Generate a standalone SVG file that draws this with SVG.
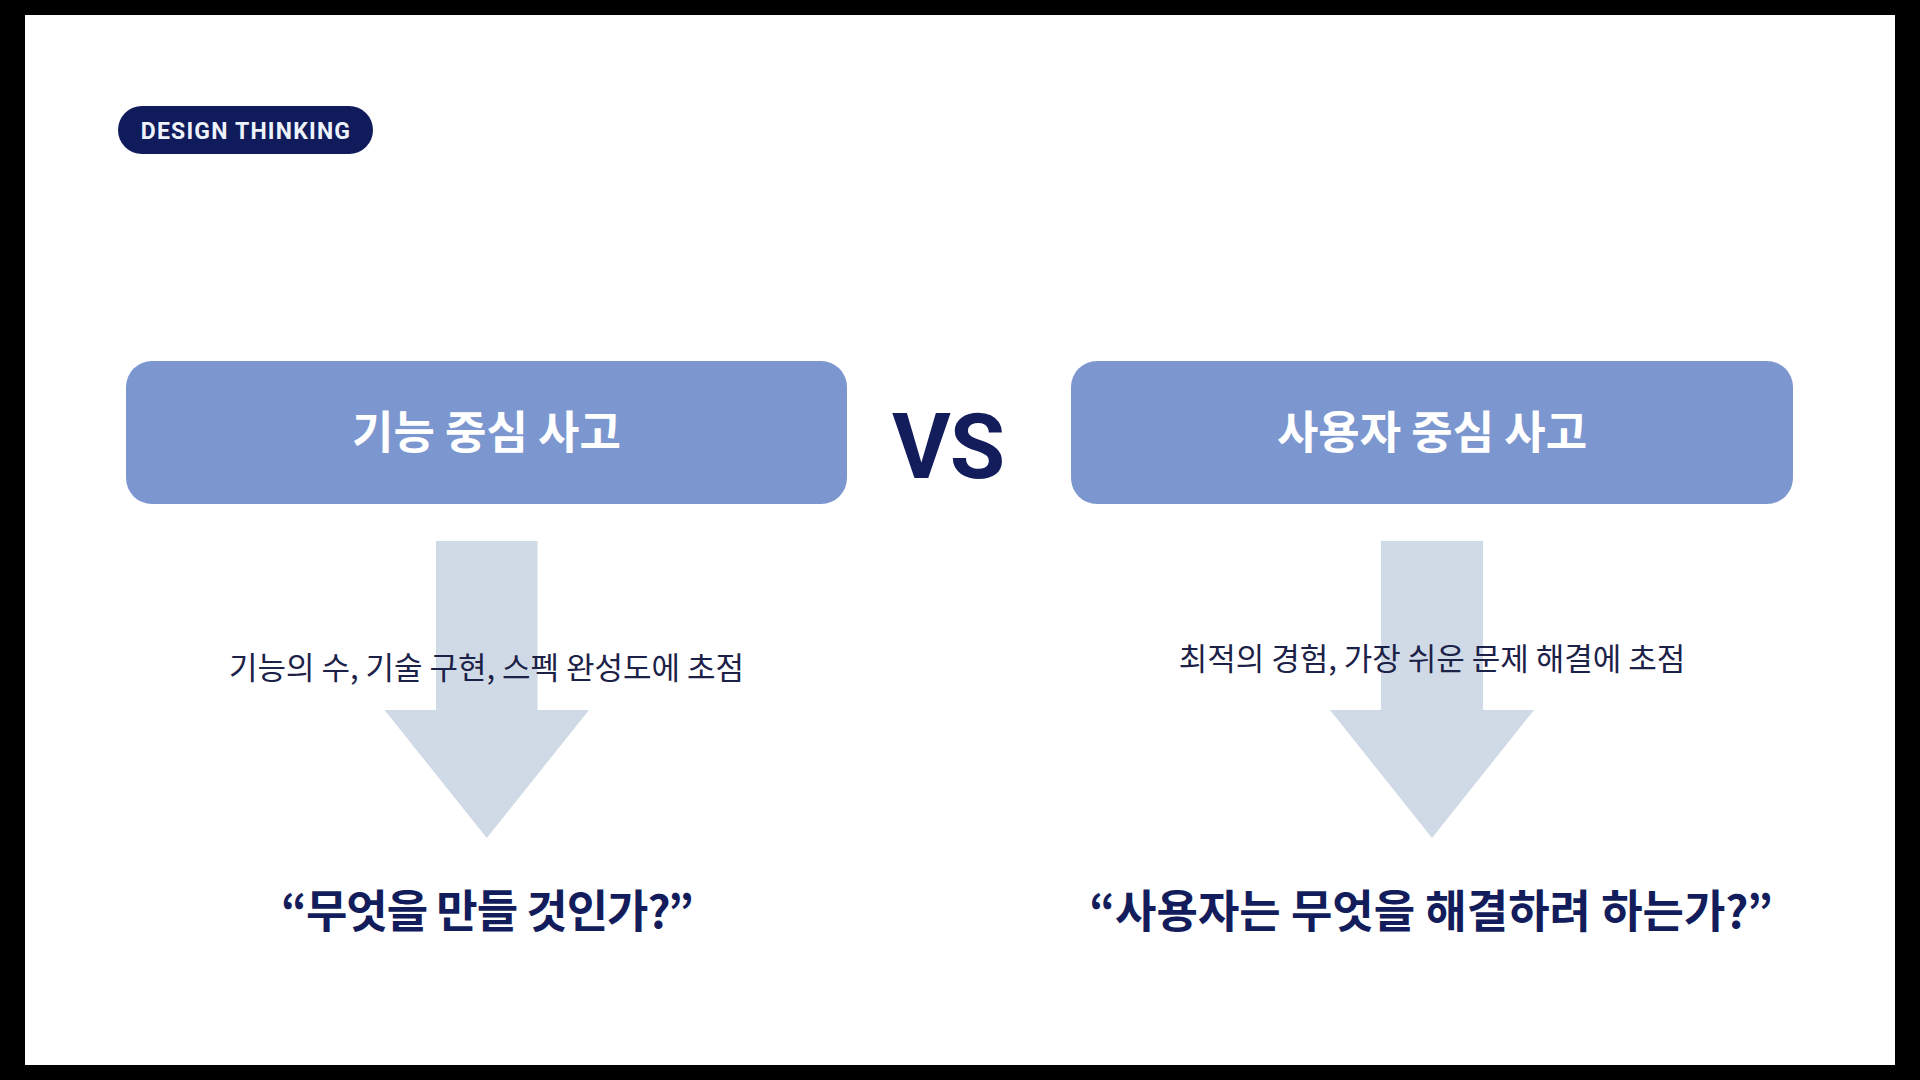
<svg xmlns="http://www.w3.org/2000/svg" width="1920" height="1080" viewBox="0 0 1920 1080">
<style>
.box{fill:#7c97d0}
.arrow{fill:#d0dae6}
.title{font-family:"Noto Sans CJK KR","Noto Sans",sans-serif;font-weight:700;font-size:45px;fill:#ffffff;text-anchor:middle}
.desc{font-family:"Noto Sans CJK KR","Noto Sans",sans-serif;font-weight:400;font-size:31px;fill:#1c2148;text-anchor:middle}
.quote{font-family:"Noto Sans CJK KR","Noto Sans",sans-serif;font-weight:700;font-size:45px;fill:#131d5c;text-anchor:middle}
</style>
<rect x="0" y="0" width="1920" height="1080" fill="#000000"/>
<rect x="25" y="15" width="1870" height="1050" fill="#ffffff"/>
<g id="badge">
<rect x="118" y="106" width="255" height="48" rx="24" fill="#0f1b5b"/>
<text x="246" y="139" font-family="Roboto,'Liberation Sans',sans-serif" font-weight="700" font-size="23" letter-spacing="1.2" fill="#eef3fb" text-anchor="middle">DESIGN THINKING</text>
</g>
<g id="node-left">
<rect class="box" x="126" y="361" width="721" height="143" rx="26"/>
<text class="title" x="486.5" y="449">기능 중심 사고</text>
</g>
<g id="vs">
<text x="948" y="478" font-family="Roboto,'Liberation Sans',sans-serif" font-weight="700" font-size="90" letter-spacing="-1" fill="#131d5c" text-anchor="middle">VS</text>
</g>
<g id="node-right">
<rect class="box" x="1071" y="361" width="722" height="143" rx="26"/>
<text class="title" x="1432" y="449">사용자 중심 사고</text>
</g>
<g id="connectors">
<polygon class="arrow" points="436,541 537.5,541 537.5,710 589,710 486.75,838 384.5,710 436,710"/>
<polygon class="arrow" points="1381,541 1483,541 1483,710 1534,710 1432,838 1330,710 1381,710"/>
</g>
<g id="desc-left">
<text class="desc" x="486.5" y="679">기능의 수, 기술 구현, 스펙 완성도에 초점</text>
</g>
<g id="desc-right">
<text class="desc" x="1432" y="670">최적의 경험, 가장 쉬운 문제 해결에 초점</text>
</g>
<g id="quote-left">
<text class="quote" x="487" y="928" letter-spacing="-1">“무엇을 만들 것인가?”</text>
</g>
<g id="quote-right">
<text class="quote" x="1431" y="928">“사용자는 무엇을 해결하려 하는가?”</text>
</g>
</svg>
